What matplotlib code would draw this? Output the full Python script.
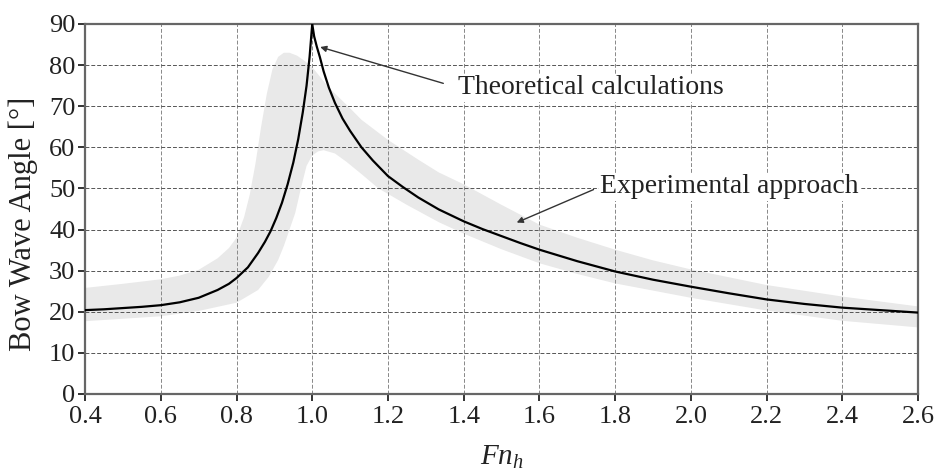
import numpy as np
import matplotlib
matplotlib.use("Agg")
import matplotlib.pyplot as plt

# Theoretical curve
fn_theory = [0.4, 0.45, 0.5, 0.55, 0.6, 0.65, 0.7, 0.75, 0.78, 0.8, 0.83, 0.857, 0.875, 0.89, 0.905, 0.92,
             0.935, 0.95, 0.963, 0.975, 0.985, 0.993, 1.0,
             1.005, 1.012, 1.02, 1.03, 1.044, 1.06, 1.08, 1.1, 1.13, 1.16, 1.2, 1.24, 1.28, 1.334, 1.4,
             1.45, 1.5, 1.55, 1.6, 1.7, 1.8, 1.9, 2.0, 2.1, 2.2, 2.3, 2.4, 2.5, 2.6]
angle_theory = [20.4, 20.6, 20.9, 21.2, 21.6, 22.3, 23.4, 25.3, 26.8, 28.2, 30.8, 34.3, 37.0, 39.6, 42.8, 46.5,
                51.0, 56.3, 62.0, 68.5, 75.0, 82.0, 90.0,
                87.0, 84.5, 82.0, 78.5, 74.5, 70.8, 67.0, 64.0, 60.0, 56.8, 53.0, 50.3, 47.8, 44.9, 42.0,
                40.1, 38.4, 36.7, 35.1, 32.3, 29.8, 27.8, 26.1, 24.5, 23.0, 21.9, 21.0, 20.4, 19.8]

# Experimental band - upper edge
fn_band_up = [0.4, 0.5, 0.6, 0.65, 0.7, 0.75, 0.78, 0.8, 0.82, 0.835, 0.85, 0.865, 0.88, 0.895, 0.91,
              0.925, 0.94, 0.96, 0.98, 1.0, 1.044, 1.1, 1.13, 1.2, 1.28, 1.334, 1.4, 1.5, 1.6, 1.7,
              1.8, 1.9, 2.0, 2.2, 2.4, 2.6]
angle_band_up = [25.8, 26.8, 27.9, 28.8, 30.2, 33.0, 35.5, 38.0, 43.0, 48.5, 56.0, 65.0, 73.0, 79.0, 82.0,
                 83.0, 83.0, 82.3, 81.0, 79.5, 74.5, 69.5, 66.7, 61.8, 57.0, 53.9, 51.0, 46.0, 41.2, 38.0,
                 35.1, 32.5, 30.3, 26.5, 23.7, 21.3]

# Experimental band - lower edge
fn_band_lo = [0.4, 0.5, 0.6, 0.7, 0.8, 0.857, 0.885, 0.91, 0.925, 0.94, 0.955, 0.97, 0.985, 1.0, 1.015,
              1.03, 1.06, 1.09, 1.13, 1.175, 1.25, 1.334, 1.4, 1.5, 1.6, 1.7, 1.8, 2.0, 2.2, 2.4, 2.6]
angle_band_lo = [17.7, 18.3, 18.9, 20.2, 22.2, 25.3, 28.5, 32.6, 36.0, 40.0, 44.0, 50.0, 55.5, 58.0, 59.0,
                 59.3, 58.5, 56.5, 53.5, 50.0, 46.0, 41.8, 39.0, 35.2, 31.8, 29.2, 26.9, 23.4, 20.3, 17.8, 16.2]

x_ticks = [0.4, 0.6, 0.8, 1.0, 1.2, 1.4, 1.6, 1.8, 2.0, 2.2, 2.4, 2.6]
y_ticks = [0, 10, 20, 30, 40, 50, 60, 70, 80, 90]


def plot_bow_wave():
    plt.rcParams['font.family'] = ['Liberation Serif', 'DejaVu Serif']
    plt.rcParams['mathtext.fontset'] = 'custom'
    plt.rcParams['mathtext.it'] = 'Liberation Serif:italic'
    plt.rcParams['mathtext.rm'] = 'Liberation Serif'

    fig = plt.figure(figsize=(9.46, 4.74), dpi=100)
    ax = fig.add_axes([0.0899, 0.1688, 0.8806, 0.7806])

    # experimental band as a closed polygon
    band_x = np.r_[fn_band_up, fn_band_lo[::-1]]
    band_y = np.r_[angle_band_up, angle_band_lo[::-1]]
    ax.fill(band_x, band_y, color='#e9e9e9', linewidth=0, zorder=1)

    ax.plot(fn_theory, angle_theory, color='black', linewidth=1.6, zorder=3)

    ax.set_xlim(0.4, 2.6)
    ax.set_ylim(0, 90)
    ax.set_xticks(x_ticks)
    ax.set_yticks(y_ticks)
    ax.set_xticklabels([f"{t:.1f}" for t in x_ticks])
    ax.tick_params(labelsize=19, direction='out', length=5, width=1.4, color='#333333',
                   labelcolor='#222222', pad=2)
    ax.tick_params(axis='x', pad=4)

    # horizontal grid darker, vertical grid lighter
    ax.yaxis.grid(True, color='#555555', linestyle=(0, (4, 2)), linewidth=0.7)
    ax.xaxis.grid(True, color='#888888', linestyle=(0, (4, 2)), linewidth=0.7)
    for sp in ax.spines.values():
        sp.set_color('#666666')
        sp.set_linewidth(1.6)

    ax.set_ylabel("Bow Wave Angle [°]", fontsize=22, color='#222222', va='center')
    ax.yaxis.set_label_coords(-0.074, 0.46)
    ax.set_xlabel("$Fn_h$", fontsize=21, color='#222222', labelpad=11)

    # annotations
    ax.annotate("Theoretical calculations", xy=(1.021, 84.4), xytext=(1.385, 74.5),
                fontsize=20, color='#222222', va='center', ha='left',
                bbox=dict(boxstyle='square,pad=0.05', fc='white', ec='none'),
                arrowprops=dict(arrowstyle='-|>', color='#333333', lw=1.0, relpos=(0, 0.5),
                                shrinkA=10, shrinkB=0, mutation_scale=9))
    ax.annotate("Experimental approach", xy=(1.54, 41.7), xytext=(1.76, 50.4),
                fontsize=20, color='#222222', va='center', ha='left',
                bbox=dict(boxstyle='square,pad=0.05', fc='white', ec='none'),
                arrowprops=dict(arrowstyle='-|>', color='#333333', lw=1.0, relpos=(0, 0.5),
                                shrinkA=4, shrinkB=0, mutation_scale=9))

    fig.savefig("out.png", dpi=100)
    plt.close(fig)


if __name__ == "__main__":
    plot_bow_wave()
